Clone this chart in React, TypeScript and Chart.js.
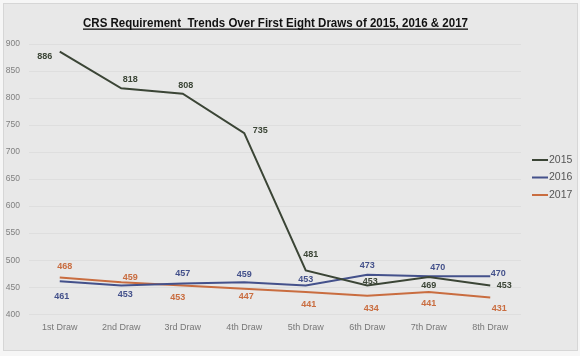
import React, { useEffect, useRef } from "react";
import { Chart, registerables } from "chart.js";

Chart.register(...registerables);

const title = "CRS Requirement  Trends Over First Eight Draws of 2015, 2016 & 2017";
const categories = ["1st Draw", "2nd Draw", "3rd Draw", "4th Draw", "5th Draw", "6th Draw", "7th Draw", "8th Draw"];
const seriesNames = ["2015", "2016", "2017"];
const series2015 = [886, 818, 808, 735, 481, 453, 469, 453];
const series2016 = [461, 453, 457, 459, 453, 473, 470, 470];
const series2017 = [468, 459, 453, 447, 441, 434, 441, 431];
const yTicks = [400, 450, 500, 550, 600, 650, 700, 750, 800, 850, 900];

// label placement per point: [dx, dy]
const place2015 = [[-15, 5], [9, -9], [3, -8], [16, -3], [5, -16], [3, -4], [0, 9], [14, 0]];
const place2016 = [[2, 15], [4, 9], [0, -10], [0, -8], [0, -6], [0, -9], [9, -9], [8, -3]];
const place2017 = [[5, -11], [9, -5], [-5, 12], [2, 8], [3, 12], [4, 13], [0, 11], [9, 11]];

const colors = ["#3b4536", "#44518b", "#c96d40"];
const FONT = "'Liberation Sans', Arial, sans-serif";

export default function App() {
  const ref = useRef<HTMLCanvasElement>(null);
  useEffect(() => {
    document.body.style.margin = "0";
    const places = [place2015, place2016, place2017];
    const bgPlugin = {
      id: "bg",
      beforeDraw(chart: any) {
        const { ctx, width, height } = chart;
        ctx.save();
        ctx.fillStyle = "#f6f6f6";
        ctx.fillRect(0, 0, width, height);
        ctx.fillStyle = "#e8e8e8";
        ctx.fillRect(3, 3, width - 5, height - 8);
        ctx.strokeStyle = "#d6d6d6";
        ctx.lineWidth = 1;
        ctx.strokeRect(3.5, 3.5, width - 6, height - 9);
        ctx.restore();
      },
      afterDraw(chart: any) {
        const { ctx } = chart;
        ctx.save();
        // title
        ctx.font = `bold 13.5px ${FONT}`;
        ctx.fillStyle = "#111";
        ctx.textBaseline = "alphabetic";
        const raw = ctx.measureText(title).width;
        const targetW = 385;
        const sx = targetW / raw;
        const left = 83;
        const y = 27;
        ctx.save();
        ctx.translate(left, y);
        ctx.scale(sx, 1);
        ctx.textAlign = "left";
        ctx.fillText(title, 0, 0);
        ctx.restore();
        ctx.fillRect(left, y + 1.5, targetW, 1.3);
        // data labels
        ctx.font = `bold 9px ${FONT}`;
        ctx.textAlign = "center";
        ctx.textBaseline = "middle";
        chart.data.datasets.forEach((ds: any, i: number) => {
          const meta = chart.getDatasetMeta(i);
          ctx.fillStyle = colors[i];
          meta.data.forEach((pt: any, j: number) => {
            const [dx, dy] = places[i][j];
            ctx.fillText(String(ds.data[j]), pt.x + dx, pt.y + dy);
          });
        });
        // legend
        ctx.font = `10.5px ${FONT}`;
        ctx.textAlign = "left";
        chart.data.datasets.forEach((ds: any, i: number) => {
          const ly = 160 + i * 17.5;
          ctx.strokeStyle = colors[i];
          ctx.lineWidth = 2;
          ctx.beginPath();
          ctx.moveTo(532, ly);
          ctx.lineTo(548, ly);
          ctx.stroke();
          ctx.fillStyle = "#555";
          ctx.fillText(ds.label, 549, ly);
        });
        ctx.restore();
      },
    };
    const datasets = [series2015, series2016, series2017].map((d, i) => ({
      label: seriesNames[i],
      data: d,
      borderColor: colors[i],
      backgroundColor: colors[i],
      borderWidth: 2,
      pointRadius: 0,
      tension: 0,
    }));
    const chart = new Chart(ref.current!, {
      type: "line",
      data: { labels: categories, datasets },
      options: {
        animation: false,
        responsive: false,
        layout: { padding: { top: 44, left: 5, right: 59, bottom: 15 } },
        plugins: {
          title: { display: false },
          tooltip: { enabled: false },
          legend: { display: false },
        },
        scales: {
          x: {
            offset: true,
            grid: { display: false, drawTicks: false },
            border: { display: false },
            ticks: { color: "#777", font: { family: FONT, size: 9 }, maxRotation: 0, padding: 8 },
          },
          y: {
            min: 400,
            max: 900,
            afterBuildTicks(axis: any) {
              axis.ticks = yTicks.map((v) => ({ value: v }));
            },
            afterFit(axis: any) {
              axis.width = 24;
            },
            grid: { color: "#dedede", drawTicks: false },
            border: { display: false },
            ticks: {
              color: "#808080",
              font: { family: FONT, size: 8.5 },
              padding: 9,
            },
          },
        },
      },
      plugins: [bgPlugin],
    } as any);
    return () => chart.destroy();
  }, []);
  return <canvas ref={ref} width={580} height={356} style={{ display: "block" }} />;
}
